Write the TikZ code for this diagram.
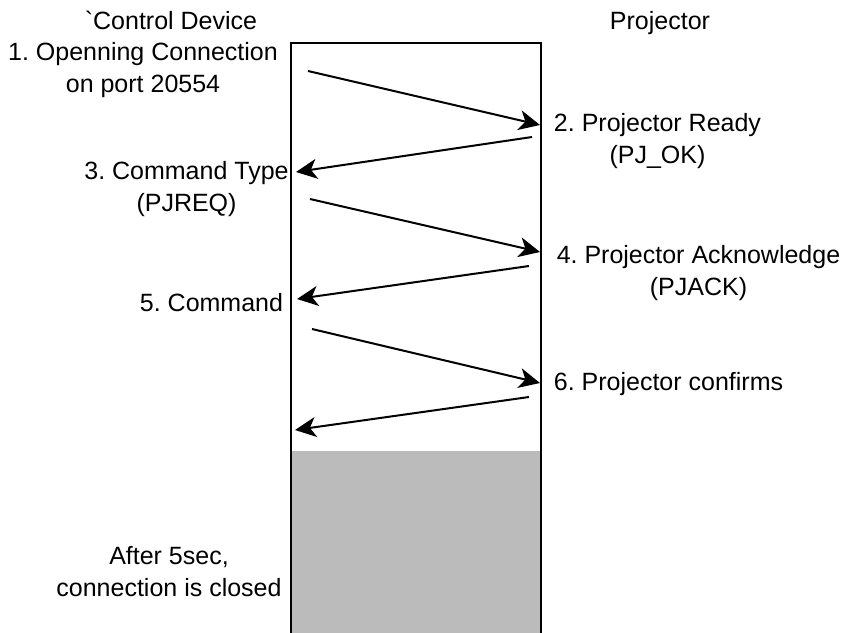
\documentclass[tikz,border=0pt]{standalone}
\usepackage{fontspec}
\setmainfont{Liberation Sans}
\usetikzlibrary{arrows.meta}
\definecolor{Shade}{RGB}{187,187,187}
\def\Xscale{845}
\def\Yscale{632}
\def\TotalM{6}
\frenchspacing

\begin{document}
\begin{tikzpicture}[x=1pt,y=-1pt,
    msg/.style={line width=2pt,-{Stealth[length=21pt,width=20pt,inset=6pt]}},
    lbl/.style={font=\fontsize{25}{32}\selectfont,align=center,inner sep=0pt,anchor=base}]
    \path[use as bounding box] (0,0) rectangle (\Xscale,\Yscale);
    \fill[Shade] (291,451) rectangle (541,640);
    \node[draw,line width=2.2pt,outer sep=0pt,inner sep=0pt,minimum width=250pt,minimum height=600pt,anchor=north west] (Life) at (291,43) {};
    % headers
    \node[lbl] (Ctrl) at (171,29) {\textasciigrave Control Device};
    \node[lbl] (Proj) at (660,29) {Projector};
    % steps (base = last line)
    \node[lbl] (L1) at (143,92) {1. Openning Connection\\on port 20554};
    \node[lbl] (L2) at (657.5,163.5) {2. Projector Ready\\(PJ\_OK)};
    \node[lbl] (L3) at (186.5,211) {3. Command Type\\(PJREQ)};
    \node[lbl] (L4) at (698.5,295) {4. Projector Acknowledge\\(PJACK)};
    \node[lbl] (L5) at (211.5,311) {5. Command};
    \node[lbl] (L6) at (668.5,390.5) {6. Projector confirms};
    \node[lbl] (L7) at (169,596) {After 5sec,\\connection is closed};
    % messages
    \foreach \M/\XS/\YS/\XE/\YE in {1/308/71/540/125,2/532/137/296/172,3/310/199/540/252,
        4/529/266/297/299,5/312/329/540/383,6/529/397/295/430} {
        \coordinate (S\M) at (\XS,\YS);
        \coordinate (E\M) at (\XE,\YE);
    }
    \foreach \M in {1,...,\TotalM} {\draw[msg] (S\M)--(E\M);}
\end{tikzpicture}
\end{document}
